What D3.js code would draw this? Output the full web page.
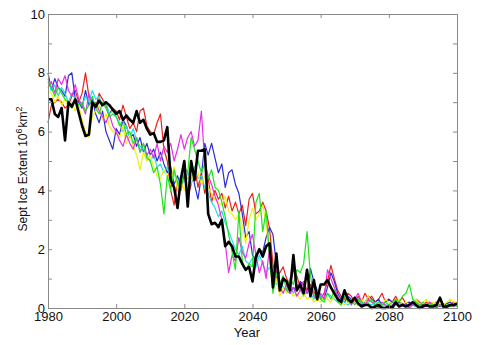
<!DOCTYPE html>
<html>
<head>
<meta charset="utf-8">
<script src="https://cdn.jsdelivr.net/npm/d3@7"></script>
<style>
  body { margin: 0; background: #fff; }
  svg { display: block; font-family: "Liberation Sans", Arial, sans-serif; }
  .tick-label { font-size: 13px; fill: #111; }
  .axis-label { font-size: 12px; fill: #111; }
</style>
</head>
<body>
<div id="chart"></div>
<script>
// ---- data: September ice extent (10^6 km^2), one value per year 1980..2100 ----
const years = d3.range(1980, 2101);

const redRun = [
  6.3, 6.9, 7.0, 7.1, 7.0, 6.8, 6.9, 7.2, 7.4, 7.0,
  7.3, 8.0, 7.2, 7.0, 6.8, 7.3, 7.1, 6.9, 6.6, 6.8,
  6.7, 6.4, 6.9, 6.5, 6.1, 6.3, 6.0, 6.7, 6.8, 6.2,
  6.0, 5.9, 6.3, 6.6, 5.4, 5.0, 4.0, 3.5, 4.3, 4.0,
  4.5, 3.8, 4.2, 4.8, 4.1, 4.6, 3.9, 4.4, 3.6, 4.0,
  3.7, 3.9, 3.4, 3.8, 3.3, 3.6, 3.2, 3.5, 2.8, 3.7,
  3.9, 3.2, 3.3, 3.6, 3.3, 2.7, 1.5, 1.0, 1.2, 1.4,
  1.0, 0.8, 1.3, 1.1, 0.7, 0.9, 0.6, 0.8, 0.5, 0.6,
  0.3, 0.5, 0.9, 1.45, 1.0, 0.6, 0.4, 0.3, 0.5, 0.4,
  0.2, 0.4, 0.2, 0.5, 0.3, 0.4, 0.2, 0.3, 0.5, 0.2,
  0.3, 0.2, 0.4, 0.2, 0.35, 0.15, 0.2, 0.1, 0.3, 0.2,
  0.1, 0.2, 0.15, 0.1, 0.2, 0.1, 0.15, 0.05, 0.1, 0.2,
  0.1
];

const blueRun = [
  8.0, 7.4, 7.8, 7.5, 7.4, 7.2, 7.9, 8.0, 7.1, 7.0,
  6.8, 7.4, 6.9, 7.1, 6.6, 6.3, 6.7, 6.0, 5.7, 5.4,
  6.1, 5.9, 6.4, 6.2, 5.8, 5.9, 5.5, 5.8, 5.3, 5.6,
  5.2, 5.4, 5.0, 5.3, 4.9, 4.6, 4.8, 4.2, 4.5, 4.1,
  4.6, 4.4, 4.9, 4.2, 3.7, 4.5, 5.6, 5.2, 5.6, 5.1,
  4.6, 4.9, 4.1, 4.6, 4.7, 4.2, 3.9, 3.2, 2.4, 2.6,
  1.8, 1.6, 2.0, 1.9, 2.4, 2.75, 2.5, 1.5, 0.9, 0.7,
  0.6, 0.5, 0.7, 0.6, 0.9, 0.8, 0.5, 1.35, 0.9, 0.6,
  0.4, 0.3, 0.7, 1.2, 0.9, 0.5, 0.3, 0.2, 0.4, 0.3,
  0.2, 0.3, 0.1, 0.2, 0.4, 0.3, 0.2, 0.3, 0.1, 0.2,
  0.3, 0.2, 0.1, 0.2, 0.15, 0.1, 0.2, 0.1, 0.05, 0.1,
  0.1, 0.05, 0.2, 0.1, 0.1, 0.05, 0.1, 0.15, 0.2, 0.1,
  0.2
];

const greenRun = [
  7.8, 7.5, 7.2, 7.5, 7.3, 7.1, 7.0, 6.8, 7.1, 6.9,
  7.0, 6.7, 6.9, 7.2, 6.8, 6.6, 7.0, 6.8, 6.5, 6.6,
  6.5, 6.2, 6.4, 5.9, 6.0, 5.6, 5.8, 5.3, 5.6, 5.1,
  5.0, 4.6, 4.8, 4.2, 3.2, 4.5, 4.0, 4.7, 4.3, 4.0,
  4.8, 4.6, 5.8, 5.4, 5.0, 4.6, 4.9, 4.4, 4.7, 4.1,
  4.0, 3.6, 3.1, 2.5, 1.9, 1.3, 3.3, 1.6, 1.3, 1.5,
  1.4, 3.6, 3.9, 2.6, 3.3, 1.8, 0.5, 1.2, 0.8, 1.1,
  0.6, 1.0, 0.8, 1.3, 1.2, 1.5, 2.6, 1.1, 0.4, 0.6,
  0.3, 0.2, 0.5, 0.3, 0.6, 0.2, 0.1, 0.4, 0.2, 0.3,
  0.1, 0.3, 0.2, 0.1, 0.2, 0.3, 0.1, 0.2, 0.1, 0.2,
  0.1, 0.2, 0.3, 0.2, 0.4, 0.5, 0.8, 0.3, 0.2, 0.1,
  0.2, 0.1, 0.15, 0.1, 0.05, 0.1, 0.0, 0.1, 0.05, 0.1,
  0.05
];

const magentaRun = [
  7.5, 7.7, 7.3, 7.8, 7.6, 7.9, 7.4, 7.2, 7.6, 7.1,
  6.9, 6.6, 7.3, 6.8, 7.0, 6.7, 6.5, 6.3, 6.6, 6.2,
  6.0, 5.7, 5.5, 5.9, 5.6, 5.4, 5.8, 5.3, 5.6, 5.2,
  5.4, 5.1, 5.6, 5.0, 5.5, 5.3, 5.6, 5.0, 5.4, 5.9,
  5.4, 5.8, 6.0, 5.5, 5.7, 6.7, 4.9, 4.5, 4.2, 3.8,
  3.5, 3.0, 2.2, 1.2, 1.8, 1.6, 2.4, 1.9, 1.7, 2.2,
  2.5, 1.8, 1.2, 1.6, 1.0, 2.1, 0.9, 1.3, 0.7, 0.5,
  0.8, 0.5, 0.7, 0.4, 0.6, 0.9, 0.5, 0.7, 0.4, 0.3,
  0.5, 0.3, 1.3, 1.0, 0.7, 0.4, 0.2, 0.5, 0.3, 0.1,
  0.3, 0.5, 0.2, 0.1, 0.3, 0.2, 0.1, 0.0, 0.2, 0.1,
  0.0, 0.1, 0.2, 0.05, 0.15, 0.1, 0.0, 0.1, 0.2, 0.1,
  0.05, 0.1, 0.2, 0.1, 0.0, 0.1, 0.05, 0.0, 0.1, 0.05,
  0.1
];

const cyanRun = [
  7.7, 7.4, 7.6, 7.2, 7.5, 7.3, 7.0, 7.3, 7.1, 6.8,
  6.9, 7.2, 7.0, 7.4, 7.1, 7.2, 6.9, 7.0, 6.6, 6.7,
  6.5, 6.3, 6.0, 6.2, 5.8, 6.1, 5.7, 5.5, 5.4, 5.2,
  5.0, 5.2, 4.8, 4.9, 4.6, 4.8, 4.4, 4.6, 4.2, 4.5,
  4.3, 4.6, 4.2, 4.8, 4.4, 4.5, 4.1, 3.9, 3.6, 3.4,
  3.1, 3.3, 2.9, 2.6, 2.3, 2.0, 1.8, 2.1, 1.6, 1.5,
  1.7, 1.4, 1.8, 1.5, 1.2, 1.4, 1.0, 0.8, 0.9, 0.7,
  0.6, 0.7, 0.5, 0.8, 0.6, 0.4, 0.6, 0.5, 0.3, 0.5,
  0.4, 0.3, 0.5, 0.4, 0.3, 0.2, 0.3, 0.2, 0.1, 0.2,
  0.2, 0.1, 0.2, 0.1, 0.15, 0.1, 0.2, 0.1, 0.05, 0.1,
  0.1, 0.05, 0.1, 0.15, 0.1, 0.05, 0.1, 0.1, 0.05, 0.1,
  0.05, 0.1, 0.1, 0.05, 0.1, 0.1, 0.05, 0.1, 0.1, 0.05,
  0.1
];

const yellowRun = [
  7.4, 7.3, 7.0, 7.2, 6.9, 7.1, 6.8, 7.0, 6.7, 6.9,
  6.4, 6.0, 5.8, 6.5, 6.7, 6.9, 6.4, 6.6, 6.2, 6.0,
  6.0, 5.8, 6.2, 5.6, 5.9, 5.5, 5.2, 4.7, 5.3, 5.0,
  5.2, 4.8, 4.5, 4.4, 4.7, 4.5, 4.2, 4.8, 4.0, 4.3,
  4.0, 4.5, 4.3, 4.7, 4.6, 4.2, 4.5, 4.1, 3.9, 3.7,
  3.6, 3.5, 3.8, 3.3, 3.2, 3.0, 3.2, 2.8, 2.2, 3.0,
  3.4, 3.0, 3.2, 3.5, 2.9, 1.6, 0.6, 1.0, 0.4, 0.7,
  0.5, 0.6, 0.4, 0.5, 0.3, 0.5, 0.3, 0.4, 0.2, 0.3,
  0.2, 0.4, 0.3, 0.2, 0.4, 0.3, 0.2, 0.1, 0.2, 0.3,
  0.2, 0.1, 0.3, 0.2, 0.4, 0.2, 0.1, 0.2, 0.1, 0.3,
  0.2, 0.1, 0.2, 0.3, 0.1, 0.2, 0.1, 0.2, 0.3, 0.1,
  0.2, 0.3, 0.1, 0.2, 0.1, 0.2, 0.1, 0.2, 0.3, 0.2,
  0.2
];

const blackRun = [
  7.1, 7.1, 6.6, 6.5, 6.8, 5.7, 7.0, 6.85, 7.1, 6.65,
  6.2, 5.85, 5.9, 7.0, 6.85, 7.05, 6.9, 7.0, 6.9, 6.75,
  6.6, 6.7, 6.4, 6.55, 6.4, 6.3, 6.7, 6.3, 6.4, 6.1,
  5.9, 5.95, 5.65, 5.65, 5.7, 6.15, 4.35, 4.1, 3.4, 4.4,
  5.0, 3.45, 5.0, 4.35, 5.35, 5.35, 5.4, 3.2, 2.85, 2.9,
  2.75, 3.0, 2.1, 2.25, 2.1, 1.75, 1.75, 1.5, 1.3, 1.4,
  0.9, 1.75, 2.0, 1.75, 2.1, 2.2, 0.7, 1.85, 0.6, 1.0,
  0.9, 0.6, 1.8, 0.6, 0.8, 0.5, 1.3, 0.4, 0.95, 0.3,
  0.8, 0.8, 0.95, 0.7, 0.5, 0.3, 0.2, 0.6, 0.3, 0.2,
  0.35, 0.15, 0.05, 0.1, 0.1, 0.0, 0.05, 0.1, 0.0, 0.0,
  0.05, 0.0, 0.2, 0.05, 0.1, 0.05, 0.1, 0.2, 0.1, 0.0,
  0.05, 0.1, 0.05, 0.05, 0.1, 0.35, 0.05, 0.05, 0.1, 0.1,
  0.15
];

const xTicks = [1980, 2000, 2020, 2040, 2060, 2080, 2100];
const yTicks = d3.range(0, 11);
const yLabels = [0, 2, 4, 6, 8, 10];

// ---- layout ----
const width = 500, height = 345;
const margin = { top: 14, right: 43, bottom: 37, left: 48 };
const innerWidth = width - margin.left - margin.right;
const innerHeight = height - margin.top - margin.bottom;

const svg = d3.select("#chart")
  .append("svg")
  .attr("width", width)
  .attr("height", height);

const g = svg.append("g")
  .attr("transform", `translate(${margin.left},${margin.top})`);

const xScale = d3.scaleLinear().domain([1980, 2100]).range([0, innerWidth]);
const yScale = d3.scaleLinear().domain([0, 10]).range([innerHeight, 0]);

// ---- lines: colored runs first, thick black on top ----
const runs = [
  { values: redRun, color: "#e8231c", w: 1.2 },
  { values: blueRun, color: "#2b2bd8", w: 1.2 },
  { values: cyanRun, color: "#22dde8", w: 1.2 },
  { values: yellowRun, color: "#f2ee10", w: 1.2 },
  { values: magentaRun, color: "#ea2ee6", w: 1.2 },
  { values: greenRun, color: "#1ee21e", w: 1.2 },
  { values: blackRun, color: "#000000", w: 2.6 }
];

const line = d3.line()
  .x((d, i) => xScale(years[i]))
  .y(d => yScale(d));

g.selectAll(".run")
  .data(runs)
  .join("path")
  .attr("class", "run")
  .attr("fill", "none")
  .attr("stroke", d => d.color)
  .attr("stroke-width", d => d.w)
  .attr("stroke-linejoin", "round")
  .attr("d", d => line(d.values));

// ---- axes box with inward ticks ----
const axisColor = "#8a8a8a";

const axBottom = g.append("g")
  .attr("transform", `translate(0,${innerHeight})`)
  .call(d3.axisBottom(xScale).tickValues(xTicks).tickSize(-4).tickPadding(4).tickFormat(d3.format("d")));

const axTop = g.append("g")
  .call(d3.axisTop(xScale).tickValues(xTicks).tickSize(-4));

const axLeft = g.append("g")
  .call(d3.axisLeft(yScale).tickValues(yTicks).tickSize(-4).tickPadding(3));

const axRight = g.append("g")
  .attr("transform", `translate(${innerWidth},0)`)
  .call(d3.axisRight(yScale).tickValues(yTicks).tickSize(-4));

// only bottom and left carry labels, and the left one only at even values
axTop.selectAll(".tick text").remove();
axRight.selectAll(".tick text").remove();
axLeft.selectAll(".tick text").filter(d => !yLabels.includes(d)).remove();

[axBottom, axTop, axLeft, axRight].forEach(ax => {
  ax.select(".domain").attr("stroke", axisColor);
  ax.selectAll(".tick line").attr("stroke", axisColor);
  ax.selectAll(".tick text").attr("class", "tick-label").attr("fill", "#111");
});

// ---- axis titles ----
svg.append("text")
  .attr("class", "axis-label")
  .attr("x", 247)
  .attr("y", 337)
  .attr("text-anchor", "middle")
  .style("font-size", "13px")
  .text("Year");

const yTitle = svg.append("text")
  .attr("class", "axis-label")
  .attr("transform", "rotate(-90)")
  .attr("x", -169)
  .attr("y", 27)
  .attr("text-anchor", "middle");

yTitle.append("tspan").text("Sept Ice Extent 10");
yTitle.append("tspan").attr("dy", -5).style("font-size", "9px").text("6");
yTitle.append("tspan").attr("dy", 5).attr("dx", 1).text("km");
yTitle.append("tspan").attr("dy", -5).style("font-size", "9px").text("2");
</script>
</body>
</html>
